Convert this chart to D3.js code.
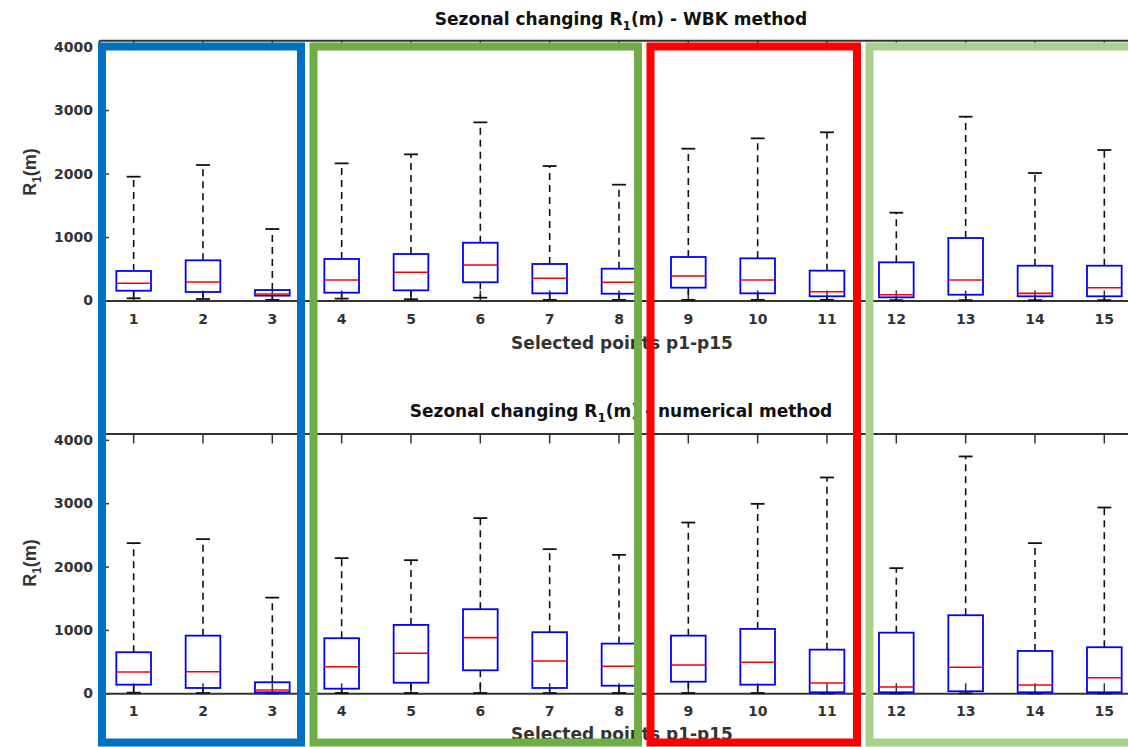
<!DOCTYPE html>
<html><head><meta charset="utf-8">
<script src="https://cdn.jsdelivr.net/npm/d3@7"></script>
<style>body{margin:0;background:#fff;overflow:hidden}</style>
</head><body><svg id="chart" width="1128" height="747"></svg>
<script>
// ---------- data ----------
const categories = ["1","2","3","4","5","6","7","8","9","10","11","12","13","14","15"];
const yTickValues = [0, 1000, 2000, 3000, 4000];
const yDomain = [0, 4100];

const wbkUpper  = [1950,2134,1126,2160,2302,2806,2118,1824,2391,2554,2649,1383,2895,2008,2370];
const wbkQ3     = [465,633,165,654,732,910,575,501,685,664,470,601,984,548,548];
const wbkMedian = [271,291,102,323,444,559,350,287,386,323,139,91,323,113,202];
const wbkQ1     = [154,134,76,123,160,287,113,107,202,113,66,50,91,66,66];
const wbkLower  = [35,24,10,30,20,44,10,10,10,10,10,5,5,5,5];

const numUpper  = [2370,2433,1510,2133,2101,2765,2275,2185,2695,2990,3406,1975,3738,2370,2932];
const numQ3     = [648,910,174,869,1079,1327,964,784,910,1016,689,957,1232,668,727];
const numMedian = [336,341,52,420,632,878,510,427,447,490,163,100,411,131,246];
const numQ1     = [136,84,16,73,167,363,84,120,183,136,16,16,32,16,16];
const numLower  = [10,5,0,5,5,5,5,5,5,5,0,0,0,0,0];

const titleMain = "Sezonal changing R";
const titleSub = "1";
const titleWbkRest = "(m) - WBK method";
const titleNumRest = "(m) - numerical method";
const xLabelText = "Selected points p1-p15";

// ---------- drawing ----------
const svg = d3.select("#chart");
const FONT = "'DejaVu Sans', sans-serif";
const axisColor = "#333";

const x = d3.scaleBand().domain(categories).range([99, 1139]).padding(0);
const boxW = x.bandwidth() * 0.5;
const capW = x.bandwidth() * 0.2;
const cx = c => x(c) + x.bandwidth() / 2;

const panels = [
  {rest: titleWbkRest, upper: wbkUpper, q3: wbkQ3, med: wbkMedian, q1: wbkQ1, lower: wbkLower,
   y: d3.scaleLinear().domain(yDomain).range([300.5, 40.2]), tickPad: 14, xLabelY: 349, titleY: 25, yLabelCy: 172},
  {rest: titleNumRest, upper: numUpper, q3: numQ3, med: numMedian, q1: numQ1, lower: numLower,
   y: d3.scaleLinear().domain(yDomain).range([693.3, 433.5]), tickPad: 12.5, xLabelY: 739.5, titleY: 416.5, yLabelCy: 563}
];

function styleAxis(g, labels) {
  g.select(".domain").attr("stroke", axisColor).attr("stroke-width", 2);
  g.selectAll(".tick line").attr("stroke", axisColor).attr("stroke-width", 1.5);
  g.selectAll(".tick text")
    .attr("font-family", FONT).attr("font-weight", "bold")
    .attr("font-size", 14).attr("fill", "#333");
  if (!labels) g.selectAll(".tick text").remove();
}

panels.forEach(p => {
  const y = p.y;
  const [yb, yt] = y.range();
  const L = 99, R = 1139;

  // axes (box with inward ticks)
  svg.append("g").attr("transform", `translate(0,${yb})`)
    .call(d3.axisBottom(x).tickSizeInner(-10).tickSizeOuter(0).tickPadding(p.tickPad))
    .call(g => styleAxis(g, true));
  svg.append("g").attr("transform", `translate(0,${yt})`)
    .call(d3.axisTop(x).tickSizeInner(-10).tickSizeOuter(0))
    .call(g => styleAxis(g, false));
  svg.append("g").attr("transform", `translate(${L},0)`)
    .call(d3.axisLeft(y).tickValues(yTickValues).tickFormat(d3.format("d"))
      .tickSizeInner(-10).tickSizeOuter(0).tickPadding(6))
    .call(g => styleAxis(g, true));
  svg.append("g").attr("transform", `translate(${R},0)`)
    .call(d3.axisRight(y).tickValues(yTickValues).tickSizeInner(-10).tickSizeOuter(0))
    .call(g => styleAxis(g, false));

  // boxplots
  const rows = categories.map((c, i) => ({c, up: p.upper[i], q3: p.q3[i], med: p.med[i], q1: p.q1[i], lo: p.lower[i]}));
  const g = svg.append("g");
  // whiskers
  g.selectAll(".wu").data(rows).join("line")
    .attr("x1", d => cx(d.c)).attr("x2", d => cx(d.c))
    .attr("y1", d => y(d.q3)).attr("y2", d => y(d.up))
    .attr("stroke", "#111").attr("stroke-width", 1.6).attr("stroke-dasharray", "7,5");
  g.selectAll(".wl").data(rows).join("line")
    .attr("x1", d => cx(d.c)).attr("x2", d => cx(d.c))
    .attr("y1", d => y(d.q1)).attr("y2", d => y(d.lo))
    .attr("stroke", "#111").attr("stroke-width", 1.6).attr("stroke-dasharray", "7,5");
  // caps
  g.selectAll(".cu").data(rows).join("line")
    .attr("x1", d => cx(d.c) - capW / 2).attr("x2", d => cx(d.c) + capW / 2)
    .attr("y1", d => y(d.up)).attr("y2", d => y(d.up))
    .attr("stroke", "#111").attr("stroke-width", 1.8);
  g.selectAll(".cl").data(rows).join("line")
    .attr("x1", d => cx(d.c) - capW / 2).attr("x2", d => cx(d.c) + capW / 2)
    .attr("y1", d => y(d.lo)).attr("y2", d => y(d.lo))
    .attr("stroke", "#111").attr("stroke-width", 1.8);
  // boxes
  g.selectAll(".bx").data(rows).join("rect")
    .attr("x", d => cx(d.c) - boxW / 2).attr("width", boxW)
    .attr("y", d => y(d.q3)).attr("height", d => y(d.q1) - y(d.q3))
    .attr("fill", "none").attr("stroke", "#0000FF").attr("stroke-width", 1.8);
  // medians
  g.selectAll(".md").data(rows).join("line")
    .attr("x1", d => cx(d.c) - boxW / 2).attr("x2", d => cx(d.c) + boxW / 2)
    .attr("y1", d => y(d.med)).attr("y2", d => y(d.med))
    .attr("stroke", "#FF0000").attr("stroke-width", 1.6);

  // title
  const t = svg.append("text").attr("x", 621).attr("y", p.titleY)
    .attr("text-anchor", "middle").attr("font-family", FONT).attr("font-weight", "bold")
    .attr("font-size", 17).attr("fill", "#111");
  t.append("tspan").text(titleMain);
  t.append("tspan").attr("font-size", 12).attr("dy", 5).text(titleSub);
  t.append("tspan").attr("font-size", 17).attr("dy", -5).text(p.rest);

  // x label
  svg.append("text").attr("x", 622).attr("y", p.xLabelY)
    .attr("text-anchor", "middle").attr("font-family", FONT).attr("font-weight", "bold")
    .attr("font-size", 17).attr("fill", "#333").text(xLabelText);

  // y label
  const yl = svg.append("text")
    .attr("transform", `translate(35.5,${p.yLabelCy}) rotate(-90)`)
    .attr("text-anchor", "middle").attr("font-family", "'Liberation Sans', Arial, sans-serif")
    .attr("font-weight", "bold").attr("font-size", 18).attr("fill", "#333");
  yl.append("tspan").text("R");
  yl.append("tspan").attr("font-size", 12).attr("dy", 5).text("1");
  yl.append("tspan").attr("font-size", 18).attr("dy", -5).text("(m)");
});

// colored group frames drawn on top
const frameTop = 46.5, frameBottom = 742.5;
const frames = [
  {x0: 102, x1: 301, color: "#0070C0"},
  {x0: 313.5, x1: 638, color: "#70AD47"},
  {x0: 650.5, x1: 857, color: "#FF0000"},
  {x0: 869.5, x1: 1145, color: "#A9D18E"}
];
svg.append("g").selectAll("rect").data(frames).join("rect")
  .attr("x", d => d.x0).attr("y", frameTop)
  .attr("width", d => d.x1 - d.x0).attr("height", frameBottom - frameTop)
  .attr("fill", "none").attr("stroke", d => d.color).attr("stroke-width", 8);
</script></body></html>
